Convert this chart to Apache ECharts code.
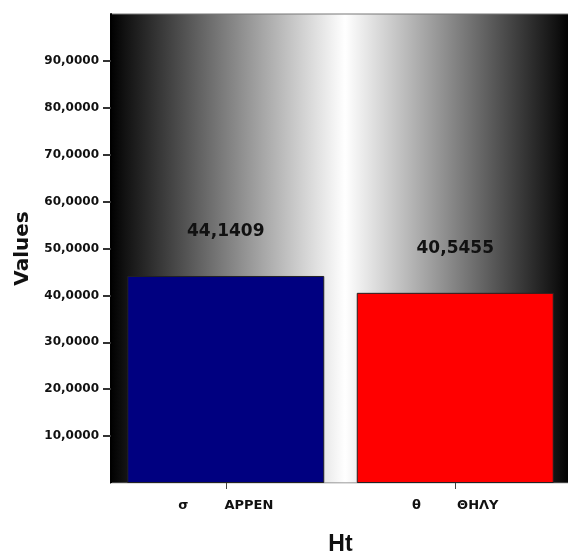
<!DOCTYPE html>
<html>
<head>
<meta charset="utf-8">
<script src="https://cdn.jsdelivr.net/npm/echarts@6/dist/echarts.min.js"></script>
<style>html,body{margin:0;padding:0;background:#fff;}#c{width:568px;height:557px;}</style>
</head>
<body>
<div id="c"></div>
<script>
var categories = ['σ        APPEN', 'θ        ΘHΛY'];
var values = [44.1409, 40.5455];
var barColors = ['#000080', '#ff0000'];
var yMin = 0, yMax = 100, yStep = 10;
var yTicks = [10, 20, 30, 40, 50, 60, 70, 80, 90];

function fmt(v, d) { return v.toFixed(d).replace('.', ','); }

var chart = echarts.init(document.getElementById('c'), null, {renderer: 'canvas'});
chart.setOption({
  animation: false,
  backgroundColor: '#fff',
  grid: {
    left: 111, top: 14, right: -2, bottom: 74,
    outerBoundsMode: 'none',
    containLabel: false,
    show: true,
    borderColor: '#777', borderWidth: 1,
    backgroundColor: new echarts.graphic.LinearGradient(0, 0, 1, 0, [
      {offset: 0, color: '#000'},
      {offset: 0.03, color: '#111'},
      {offset: 0.51, color: '#fff'},
      {offset: 0.97, color: '#111'},
      {offset: 1, color: '#000'}
    ])
  },
  xAxis: {
    type: 'category',
    data: categories,
    name: 'Ht',
    nameLocation: 'middle',
    nameGap: 50,
    nameTextStyle: {fontFamily: 'Liberation Sans', fontSize: 23, fontWeight: 'bold', color: '#111'},
    axisLine: {show: true, lineStyle: {color: '#ddd', width: 1}},
    axisTick: {show: true, alignWithLabel: true, length: 6, lineStyle: {color: '#444'}},
    axisLabel: {fontFamily: 'DejaVu Sans', fontSize: 13, fontWeight: 'bold', color: '#111', margin: 16}
  },
  yAxis: {
    type: 'value',
    min: yMin, max: yMax, interval: yStep,
    name: 'Values',
    nameLocation: 'middle',
    nameGap: 78,
    nameTextStyle: {fontFamily: 'DejaVu Sans', fontSize: 20, fontWeight: 'bold', color: '#111'},
    axisLine: {show: true, lineStyle: {color: '#000', width: 2}},
    axisTick: {show: true, length: 8, customValues: yTicks, lineStyle: {color: '#333', width: 2}},
    splitLine: {show: false},
    axisLabel: {
      customValues: yTicks,
      fontFamily: 'DejaVu Sans', fontSize: 12, fontWeight: 'bold', color: '#111', margin: 12,
      formatter: function (v) { return fmt(v, 4); }
    }
  },
  series: [{
    type: 'bar',
    barWidth: 197,
    data: values.map(function (v, i) {
      return {value: v, itemStyle: {color: barColors[i], borderColor: '#222', borderWidth: 1}};
    }),
    label: {
      show: true, position: 'top', distance: 36,
      fontFamily: 'DejaVu Sans', fontSize: 17, fontWeight: 'bold', color: '#111',
      formatter: function (p) { return fmt(p.value, 4); }
    }
  }]
});
</script>
</body>
</html>
